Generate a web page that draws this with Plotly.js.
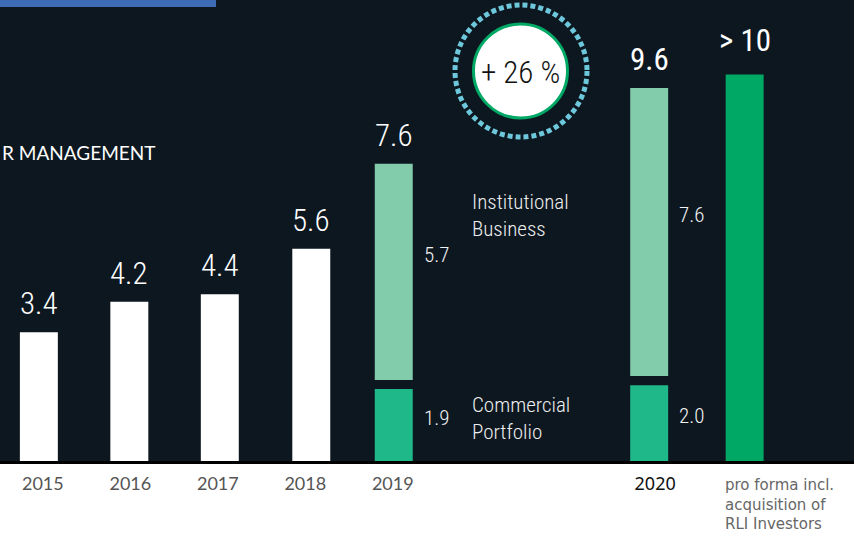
<!DOCTYPE html>
<html>
<head>
<meta charset="utf-8">
<script src="https://cdn.plot.ly/plotly-3.0.1.min.js"></script>
<style>html,body{margin:0;padding:0;background:#fff;}#chart{width:854px;height:535px;}</style>
</head>
<body>
<div id="chart"></div>
<script>
// ---- data ----
const categories = ['2015','2016','2017','2018','2019','gapA','gapB','2020','pro forma'];
const plainYears = ['2015','2016','2017','2018'];
const plainValues = [3.4, 4.2, 4.4, 5.6];
const splitYears = ['2019','2020'];
const commercialValues = [1.9, 2.0];
const institutionalValues = [5.7, 7.6];
const proFormaCat = ['pro forma'];
const proFormaValues = [10.2];
const totalLabels = ['3.4','4.2','4.4','5.6','7.6','9.6','> 10'];
const tickCats = ['2015','2016','2017','2018','2019','2020'];
const tickLabels = ['2015','2016','2017','2018','2019',
  '<span style="color:#111;font-family:Noto Sans;font-weight:400">2020</span>'];
const proFormaLabel = 'pro forma incl.<br>acquisition of<br>RLI Investors';
const legendInstitutional = 'Institutional<br>Business';
const legendCommercial = 'Commercial<br>Portfolio';
const titleText = 'R MANAGEMENT';
const growthText = '+ 26 %';

// ---- style ----
const BG = '#0d1720';
const COND = '"Roboto Condensed","Open Sans Condensed",sans-serif';
const GAP = 0.24;          // visual gap between stacked segments (data units)
const BW = 0.434;          // bar width (category units)
const PX = 87.47;          // pixels per category
const nudgePx = {'2015':-4,'2016':-1,'2017':2,'2018':6,'2019':1,'2020':-6,'pro forma':2};
const idx = c => categories.indexOf(c);
const offs = cats => cats.map(c => -BW/2 + nudgePx[c]/PX);

const instBase = commercialValues.map(v => v + GAP);

const traces = [
  {type:'bar', x:plainYears, y:plainValues, width:BW, offset:offs(plainYears), marker:{color:'#ffffff'}, hoverinfo:'skip'},
  {type:'bar', x:splitYears, y:commercialValues, width:BW, offset:offs(splitYears), marker:{color:'#1fb888'}, hoverinfo:'skip'},
  {type:'bar', x:splitYears, y:institutionalValues, base:instBase, width:BW, offset:offs(splitYears), marker:{color:'#82cbab'}, hoverinfo:'skip'},
  {type:'bar', x:proFormaCat, y:proFormaValues, width:BW, offset:offs(proFormaCat), marker:{color:'#00a866'}, hoverinfo:'skip'}
];

const totalCats = plainYears.concat(splitYears, proFormaCat);
const totalTops = plainValues.concat(
  splitYears.map((_, i) => instBase[i] + institutionalValues[i]),
  proFormaValues);

const annotations = [];
totalCats.forEach((c, i) => {
  const strong = (c === '2020' || c === 'pro forma');
  annotations.push({x:idx(c), y:totalTops[i], xref:'x', yref:'y', text:totalLabels[i],
    showarrow:false, yanchor:'bottom', xshift:nudgePx[c], yshift: c === 'pro forma' ? 13 : 8,
    font:{family:COND, size:31, color:'#ffffff', weight: strong ? 400 : 300}});
});
splitYears.forEach((c, i) => {
  annotations.push({x:idx(c), y:instBase[i] + institutionalValues[i]/2, xref:'x', yref:'y',
    text:institutionalValues[i].toFixed(1), showarrow:false, xanchor:'left', yanchor:'middle',
    xshift:28 + nudgePx[c], yshift:17,
    font:{family:COND, size:21, color:'#f2f2f2', weight:300}});
  annotations.push({x:idx(c), y:commercialValues[i]/2, xref:'x', yref:'y',
    text:commercialValues[i].toFixed(1), showarrow:false, xanchor:'left', yanchor:'middle',
    xshift:28 + nudgePx[c], yshift:7,
    font:{family:COND, size:21, color:'#f2f2f2', weight:300}});
});
annotations.push({x:470/854, y:(461-215)/461, xref:'paper', yref:'paper', text:legendInstitutional,
  showarrow:false, xanchor:'left', yanchor:'middle', align:'left',
  font:{family:COND, size:21, color:'#eeeeee', weight:300}});
annotations.push({x:470/854, y:(461-418.5)/461, xref:'paper', yref:'paper', text:legendCommercial,
  showarrow:false, xanchor:'left', yanchor:'middle', align:'left',
  font:{family:COND, size:21, color:'#eeeeee', weight:300}});
annotations.push({x:idx('pro forma'), y:(461-474)/461, xref:'x', yref:'paper', text:proFormaLabel,
  showarrow:false, xanchor:'left', yanchor:'top', xshift:-20, align:'left',
  font:{family:'"DejaVu Sans", sans-serif', size:15, color:'#666666', weight:400}});
annotations.push({x:0, y:(461-152)/461, xref:'paper', yref:'paper', text:titleText,
  showarrow:false, xanchor:'left', yanchor:'middle', font:{family:'Lato, sans-serif', size:19, color:'#ffffff'}});
annotations.push({x:520.5/854, y:(461-73)/461, xref:'paper', yref:'paper', text:growthText,
  showarrow:false, xanchor:'center', yanchor:'middle', font:{family:COND, size:31, color:'#111111', weight:300}});

const shapes = [
  {type:'rect', xref:'paper', yref:'paper', x0:0, x1:216/854, y0:(461-7)/461, y1:1,
   fillcolor:'#3d6bb5', line:{width:0}},
  {type:'circle', xref:'paper', yref:'paper', x0:455/854, x1:587/854, y0:(461-137)/461, y1:(461-5)/461,
   fillcolor:'rgba(0,0,0,0)', line:{color:'#6ec8dc', width:5, dash:'5px,3px'}},
  {type:'circle', xref:'paper', yref:'paper', x0:473.5/854, x1:567.5/854, y0:(461-118)/461, y1:(461-24)/461,
   fillcolor:'#ffffff', line:{color:'#00a866', width:3}}
];

const layout = {
  width:854, height:535,
  margin:{l:0, r:0, t:0, b:74, pad:0},
  paper_bgcolor:'#ffffff', plot_bgcolor:BG,
  barmode:'overlay', showlegend:false,
  xaxis:{type:'category', categoryorder:'array', categoryarray:categories,
    range:[-0.49, 9.273], tickvals:tickCats, ticktext:tickLabels,
    showgrid:false, zeroline:false, showline:true, linecolor:'#000000', linewidth:3,
    ticks:'', ticklabelstandoff:4,
    tickfont:{family:'Lato, sans-serif', size:18, color:'#555555'}, fixedrange:true},
  yaxis:{range:[0, 461/37.9], showgrid:false, zeroline:false, showticklabels:false,
    showline:false, fixedrange:true},
  shapes:shapes, annotations:annotations
};

Plotly.newPlot('chart', traces, layout, {staticPlot:true, displayModeBar:false});
</script>
</body>
</html>
